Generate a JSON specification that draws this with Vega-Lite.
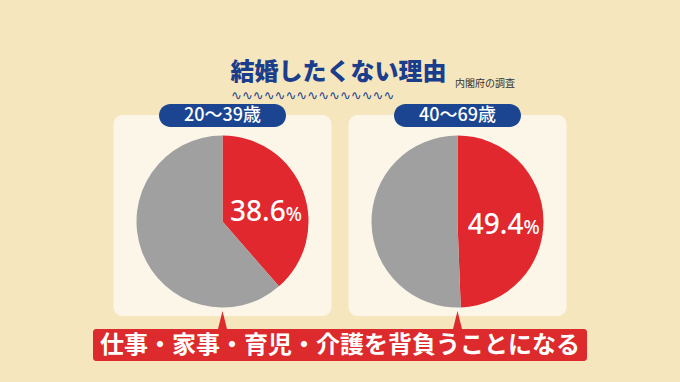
{
  "$schema": "https://vega.github.io/schema/vega-lite/v6.json",
  "width": 680,
  "height": 382,
  "padding": 0,
  "autosize": {"type": "none"},
  "background": "#f5e6be",
  "config": {"view": {"stroke": null}, "font": "Noto Sans CJK JP"},
  "datasets": {
    "pies": [
      {"group": "20〜39歳", "category": "仕事・家事・育児・介護を背負うことになる", "value": 38.6, "order": 1},
      {"group": "20〜39歳", "category": "その他", "value": 61.4, "order": 2},
      {"group": "40〜69歳", "category": "仕事・家事・育児・介護を背負うことになる", "value": 49.4, "order": 1},
      {"group": "40〜69歳", "category": "その他", "value": 50.6, "order": 2}
    ],
    "labels": [
      {"title": "結婚したくない理由", "source": "内閣府の調査", "reason": "仕事・家事・育児・介護を背負うことになる", "wave": "∿∿∿∿∿∿∿∿∿∿∿∿∿∿∿"}
    ]
  },
  "layer": [
    {
      "data": {"name": "pies"},
      "transform": [{"filter": "datum.order === 1"}],
      "mark": {"type": "rect", "fill": "#fcf6e8", "cornerRadius": 9},
      "encoding": {
        "x": {"field": "group", "type": "nominal", "axis": null, "scale": {"type": "band", "domain": ["20〜39歳", "40〜69歳"], "paddingInner": 0.0723, "paddingOuter": 0.483}},
        "y": {"value": 115},
        "y2": {"value": 316}
      }
    },
    {
      "data": {"name": "pies"},
      "transform": [{"filter": "datum.order === 1"}],
      "mark": {"type": "rect", "fill": "#1c4591", "cornerRadius": 11.5, "width": 127},
      "encoding": {
        "x": {"field": "group", "type": "nominal", "axis": null},
        "y": {"value": 104},
        "y2": {"value": 127}
      }
    },
    {
      "data": {"name": "pies"},
      "transform": [{"filter": "datum.order === 1"}],
      "mark": {"type": "text", "fill": "#ffffff", "fontSize": 18, "fontWeight": 500, "baseline": "middle", "font": "Noto Sans CJK JP"},
      "encoding": {
        "x": {"field": "group", "type": "nominal", "axis": null},
        "y": {"value": 115.5},
        "text": {"field": "group"}
      }
    },
    {
      "data": {"name": "pies"},
      "transform": [{"filter": "datum.group === '20〜39歳'"}],
      "encoding": {
        "x": {"field": "group", "type": "nominal", "axis": null},
        "y": {"value": 221.5},
        "theta": {"field": "value", "type": "quantitative", "stack": true, "scale": {"domain": [0, 100]}},
        "order": {"field": "order"}
      },
      "layer": [
        {
          "mark": {"type": "arc", "outerRadius": 86},
          "encoding": {
            "color": {"field": "category", "type": "nominal", "legend": null, "scale": {"domain": ["仕事・家事・育児・介護を背負うことになる", "その他"], "range": ["#e0282e", "#a0a0a0"]}}
          }
        },
        {
          "mark": {"type": "text", "radius": 44, "fill": "#ffffff", "fontSize": 28, "fontWeight": 500, "font": "Noto Sans", "align": "right", "baseline": "middle", "dx": 22, "dy": 7},
          "encoding": {
            "text": {"field": "value", "type": "quantitative", "format": ".1f", "condition": {"test": "datum.order === 2", "value": ""}}
          }
        },
        {
          "mark": {"type": "text", "radius": 44, "fill": "#ffffff", "fontSize": 19, "fontWeight": 500, "font": "Noto Sans", "align": "left", "baseline": "middle", "dx": 22, "dy": 9},
          "encoding": {
            "text": {"condition": {"test": "datum.order === 1", "value": "%"}, "value": ""}
          }
        }
      ]
    },
    {
      "data": {"name": "pies"},
      "transform": [{"filter": "datum.group === '40〜69歳'"}],
      "encoding": {
        "x": {"field": "group", "type": "nominal", "axis": null},
        "y": {"value": 221.5},
        "theta": {"field": "value", "type": "quantitative", "stack": true, "scale": {"domain": [0, 100]}},
        "order": {"field": "order"}
      },
      "layer": [
        {
          "mark": {"type": "arc", "outerRadius": 86},
          "encoding": {
            "color": {"field": "category", "type": "nominal", "legend": null}
          }
        },
        {
          "mark": {"type": "text", "radius": 44, "fill": "#ffffff", "fontSize": 28, "fontWeight": 500, "font": "Noto Sans", "align": "right", "baseline": "middle", "dx": 22, "dy": 5},
          "encoding": {
            "text": {"field": "value", "type": "quantitative", "format": ".1f", "condition": {"test": "datum.order === 2", "value": ""}}
          }
        },
        {
          "mark": {"type": "text", "radius": 44, "fill": "#ffffff", "fontSize": 19, "fontWeight": 500, "font": "Noto Sans", "align": "left", "baseline": "middle", "dx": 22, "dy": 7},
          "encoding": {
            "text": {"condition": {"test": "datum.order === 1", "value": "%"}, "value": ""}
          }
        }
      ]
    },
    {
      "data": {"name": "pies"},
      "transform": [{"filter": "datum.order === 1"}],
      "mark": {"type": "point", "shape": "M0,-1L0.5,1L-0.5,1Z", "size": 400, "filled": true, "fill": "#dd2a2c", "opacity": 1, "strokeWidth": 0},
      "encoding": {
        "x": {"field": "group", "type": "nominal", "axis": null},
        "y": {"value": 321}
      }
    },
    {
      "data": {"name": "labels"},
      "mark": {"type": "rect", "fill": "#dd2a2c", "cornerRadius": 3},
      "encoding": {
        "x": {"value": 93},
        "x2": {"value": 587},
        "y": {"value": 329},
        "y2": {"value": 361}
      }
    },
    {
      "data": {"name": "labels"},
      "mark": {"type": "text", "fill": "#ffffff", "fontSize": 24, "fontWeight": "bold", "baseline": "middle", "font": "Noto Sans CJK JP"},
      "encoding": {
        "y": {"value": 345.5},
        "text": {"field": "reason"}
      }
    },
    {
      "data": {"name": "labels"},
      "mark": {"type": "text", "fill": "#1b3e8c", "fontSize": 24, "fontWeight": 900, "baseline": "middle", "font": "Noto Sans CJK JP", "dx": -1.5},
      "encoding": {
        "y": {"value": 73},
        "text": {"field": "title"}
      }
    },
    {
      "data": {"name": "labels"},
      "mark": {"type": "text", "fill": "#333333", "fontSize": 10, "baseline": "middle", "align": "left", "font": "Noto Sans CJK JP"},
      "encoding": {
        "x": {"value": 455},
        "y": {"value": 83.5},
        "text": {"field": "source"}
      }
    },
    {
      "data": {"name": "labels"},
      "mark": {"type": "text", "fill": "#1b3e8c", "fontSize": 13, "baseline": "middle", "align": "left", "font": "DejaVu Sans"},
      "encoding": {
        "x": {"value": 231},
        "y": {"value": 96},
        "text": {"field": "wave"}
      }
    }
  ]
}
